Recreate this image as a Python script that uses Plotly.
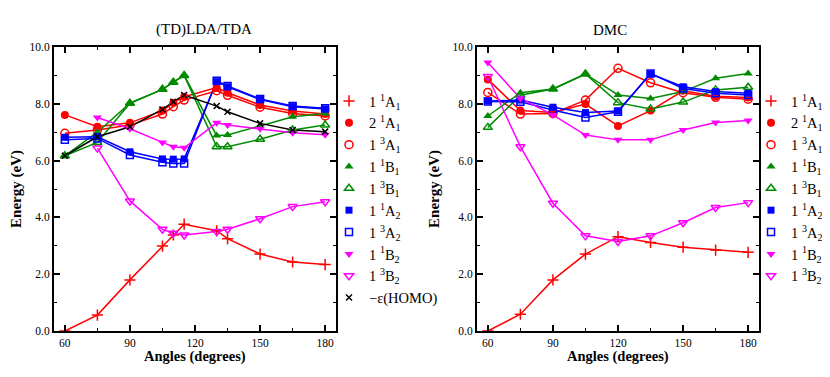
import plotly.graph_objects as go
from plotly.subplots import make_subplots

# ---------------- data ----------------
angles_lda = [60, 75, 90, 105, 110, 115, 130, 135, 150, 165, 180]
angles_dmc = [60, 75, 90, 105, 120, 135, 150, 165, 180]

# (TD)LDA/TDA
lda_1A1_1 = [0.0, 0.56, 1.80, 2.99, 3.38, 3.76, 3.53, 3.25, 2.71, 2.43, 2.34]
lda_2A1_1 = [7.61, 7.19, 7.33, 7.76, 8.04, 8.25, 8.57, 8.39, 7.96, 7.75, 7.64]
lda_1A1_3 = [6.96, 7.08, 7.25, 7.64, 7.90, 8.13, 8.46, 8.30, 7.88, 7.66, 7.57]
lda_1B1_1 = [6.17, 7.00, 8.02, 8.51, 8.76, 9.00, 6.88, 6.90, 7.22, 7.54, 7.66]
lda_1B1_3 = [6.17, 6.64, 8.02, 8.51, 8.76, 9.00, 6.49, 6.49, 6.75, 7.08, 7.25]
lda_1A2_1 = [6.82, 6.84, 6.31, 6.06, 6.05, 6.06, 8.78, 8.60, 8.15, 7.90, 7.82]
lda_1A2_3 = [6.73, 6.78, 6.20, 5.94, 5.90, 5.90, 8.81, 8.63, 8.17, 7.92, 7.84]
lda_1B2_1 = [None, 7.52, 7.12, 6.64, 6.49, 6.45, 7.33, 7.25, 7.12, 6.98, 6.91]
lda_1B2_3 = [None, 6.44, 4.58, 3.58, 3.44, 3.38, 3.50, 3.58, 3.95, 4.38, 4.55]
lda_homo = [6.17, 6.84, 7.19, 7.80, 8.07, 8.31, 7.92, 7.72, 7.31, 7.08, 7.02]

# DMC
dmc_1A1_1 = [0.0, 0.59, 1.80, 2.71, 3.32, 3.12, 2.95, 2.85, 2.77]
dmc_2A1_1 = [8.86, 7.76, 7.69, 7.99, 7.22, 7.76, 8.46, 8.27, 8.22]
dmc_1A1_3 = [8.40, 7.64, 7.66, 8.13, 9.25, 8.74, 8.39, 8.23, 8.16]
dmc_1B1_1 = [7.57, 8.39, 8.52, 9.05, 8.31, 8.19, 8.43, 8.90, 9.07]
dmc_1B1_3 = [7.17, 8.30, 8.52, 9.05, 8.04, 7.82, 8.06, 8.49, 8.58]
dmc_1A2_1 = [8.10, 8.13, 7.88, 7.69, 7.75, 9.05, 8.60, 8.43, 8.37]
dmc_1A2_3 = [8.08, 8.07, 7.78, 7.52, 7.72, 9.07, 8.54, 8.37, 8.31]
dmc_1B2_1 = [9.45, 8.19, 7.61, 6.90, 6.73, 6.73, 7.08, 7.34, 7.41]
dmc_1B2_3 = [8.96, 6.49, 4.50, 3.35, 3.15, 3.35, 3.81, 4.35, 4.52]

panel_titles = ["(TD)LDA/TDA", "DMC"]
x_title = "Angles (degrees)"
y_title = "Energy (eV)"
x_ticks = [60, 90, 120, 150, 180]
y_ticks = [0, 2, 4, 6, 8, 10]
y_tick_labels = ["0.0", "2.0", "4.0", "6.0", "8.0", "10.0"]

labels = {
    "1A1_1": "1 <sup>1</sup>A<sub>1</sub>",
    "2A1_1": "2 <sup>1</sup>A<sub>1</sub>",
    "1A1_3": "1 <sup>3</sup>A<sub>1</sub>",
    "1B1_1": "1 <sup>1</sup>B<sub>1</sub>",
    "1B1_3": "1 <sup>3</sup>B<sub>1</sub>",
    "1A2_1": "1 <sup>1</sup>A<sub>2</sub>",
    "1A2_3": "1 <sup>3</sup>A<sub>2</sub>",
    "1B2_1": "1 <sup>1</sup>B<sub>2</sub>",
    "1B2_3": "1 <sup>3</sup>B<sub>2</sub>",
    "homo": "\u2212\u03b5(HOMO)",
}

RED, GREEN, BLUE, MAG, BLK = "#ff0000", "#008b00", "#0000ff", "#ff00ff", "#000000"
styles = {
    "1A1_1": (RED, "cross-thin", 8),
    "2A1_1": (RED, "circle", 8),
    "1A1_3": (RED, "circle-open", 8),
    "1B1_1": (GREEN, "triangle-up", 8),
    "1B1_3": (GREEN, "triangle-up-open", 8),
    "1A2_1": (BLUE, "square", 7),
    "1A2_3": (BLUE, "square-open", 7),
    "1B2_1": (MAG, "triangle-down", 8),
    "1B2_3": (MAG, "triangle-down-open", 8),
    "homo": (BLK, "x-thin", 6),
}

lda = [("1A1_1", lda_1A1_1), ("2A1_1", lda_2A1_1), ("1A1_3", lda_1A1_3),
       ("1B1_1", lda_1B1_1), ("1B1_3", lda_1B1_3), ("1A2_1", lda_1A2_1),
       ("1A2_3", lda_1A2_3), ("1B2_1", lda_1B2_1), ("1B2_3", lda_1B2_3),
       ("homo", lda_homo)]
dmc = [("1A1_1", dmc_1A1_1), ("2A1_1", dmc_2A1_1), ("1A1_3", dmc_1A1_3),
       ("1B1_1", dmc_1B1_1), ("1B1_3", dmc_1B1_3), ("1A2_1", dmc_1A2_1),
       ("1A2_3", dmc_1A2_3), ("1B2_1", dmc_1B2_1), ("1B2_3", dmc_1B2_3)]

fig = make_subplots(rows=1, cols=2)

def add_panel(series, xs, col, legend_name):
    for key, ys in series:
        color, sym, size = styles[key]
        fig.add_trace(go.Scatter(
            x=xs, y=ys, mode="lines", line=dict(color=color, width=1.5),
            showlegend=False, connectgaps=False, hoverinfo="skip"), row=1, col=col)
    for key, ys in series:
        color, sym, size = styles[key]
        lw = 1.5 if ("open" in sym or "thin" in sym) else 0
        fig.add_trace(go.Scatter(
            x=xs, y=ys, mode="markers", name=labels[key], legend=legend_name,
            marker=dict(symbol=sym, size=size, color=color,
                        line=dict(color=color, width=lw))), row=1, col=col)

add_panel(lda, angles_lda, 1, "legend")
add_panel(dmc, angles_dmc, 2, "legend2")

# figure is 822x369, placed by the page 8px from the top-left corner
W, H = 822, 369
FONT = "Liberation Serif"
ydom = [1 - 323 / H, 1 - 39 / H]
xdoms = [[46 / W, 328 / W], [469 / W, 751 / W]]
axis_common = dict(showgrid=False, zeroline=False, showline=True, linecolor="black",
                   linewidth=2, mirror="allticks", ticks="inside", ticklen=6,
                   tickwidth=1.5, tickcolor="black",
                   tickfont=dict(family=FONT, size=11.5, color="black"))
for i, (xd, col) in enumerate(zip(xdoms, [1, 2])):
    fig.update_xaxes(domain=xd, range=[55, 185], tickvals=x_ticks,
                     minor=dict(ticks="inside", dtick=15, tick0=60, ticklen=3,
                                tickcolor="black", tickwidth=1),
                     row=1, col=col, **axis_common)
    fig.update_yaxes(domain=ydom, range=[0, 10], tickvals=y_ticks, ticktext=y_tick_labels,
                     minor=dict(ticks="inside", dtick=1, ticklen=3,
                                tickcolor="black", tickwidth=1),
                     title=dict(text="<b>" + y_title + "</b>", standoff=9,
                                font=dict(family=FONT, size=15, color="black")),
                     row=1, col=col, **axis_common)
    fig.add_annotation(text="<b>" + x_title + "</b>", x=(xd[0] + xd[1]) / 2,
                       y=1 - 348 / H, xref="paper", yref="paper", showarrow=False,
                       xanchor="center", yanchor="middle",
                       font=dict(family=FONT, size=14.5, color="black"))

for i, (t, xc) in enumerate(zip(panel_titles, [196 / W, 602 / W])):
    fig.add_annotation(text=t, x=xc, y=1 - 22 / H, xref="paper", yref="paper",
                       showarrow=False, xanchor="center", yanchor="middle",
                       font=dict(family=FONT, size=15, color="black"))

leg_common = dict(xanchor="left", yanchor="top", bgcolor="rgba(0,0,0,0)",
                  borderwidth=0, font=dict(family=FONT, size=14.5, color="black"),
                  itemwidth=30, tracegroupgap=0, itemsizing="trace")
fig.update_layout(
    width=W, height=H, margin=dict(l=0, r=0, t=0, b=0, autoexpand=False),
    paper_bgcolor="white", plot_bgcolor="white",
    legend=dict(x=321 / W, y=1 - 77 / H, **leg_common),
    legend2=dict(x=743 / W, y=1 - 77 / H, **leg_common),
)

fig.write_html("out.html")
